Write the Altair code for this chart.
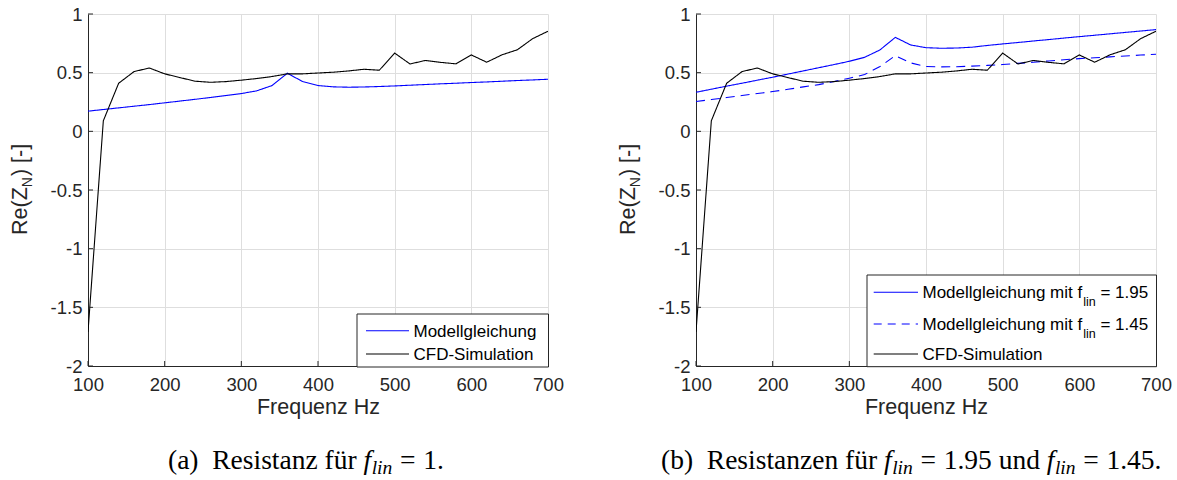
import altair as alt
import pandas as pd

# ---------------- data ----------------
freq = list(range(100, 701, 20))
cfd_sim = [-1.71, 0.09, 0.41, 0.509, 0.54, 0.49, 0.458, 0.427, 0.418, 0.424,
           0.436, 0.45, 0.467, 0.49, 0.49, 0.497, 0.504, 0.515, 0.529, 0.521,
           0.667, 0.574, 0.604, 0.588, 0.575, 0.651, 0.589, 0.652, 0.695, 0.79,
           0.853]
model_flin_1 = [0.172, 0.186, 0.2, 0.214, 0.228, 0.243, 0.258, 0.273, 0.289, 0.305,
                0.322, 0.345, 0.39, 0.495, 0.424, 0.39, 0.379, 0.376, 0.378, 0.382,
                0.387, 0.393, 0.399, 0.405, 0.41, 0.416, 0.421, 0.427, 0.433, 0.438,
                0.444]
model_flin_195 = [0.333, 0.359, 0.385, 0.41, 0.436, 0.461, 0.488, 0.515, 0.542, 0.569,
                  0.597, 0.631, 0.694, 0.801, 0.736, 0.713, 0.708, 0.71, 0.717, 0.732,
                  0.745, 0.757, 0.77, 0.782, 0.795, 0.807, 0.819, 0.831, 0.843, 0.855,
                  0.867]
model_flin_145 = [0.254, 0.271, 0.288, 0.305, 0.322, 0.339, 0.358, 0.379, 0.398, 0.424,
                  0.453, 0.484, 0.552, 0.645, 0.583, 0.552, 0.549, 0.551, 0.556, 0.562,
                  0.569, 0.579, 0.589, 0.6, 0.61, 0.62, 0.627, 0.635, 0.642, 0.65,
                  0.657]
x_tick_values = [100, 200, 300, 400, 500, 600, 700]
y_tick_values = [1, 0.5, 0, -0.5, -1, -1.5, -2]

# ---------------- styling ----------------
W, H = 460, 352
FONT = "Liberation Sans"
SERIF = "Liberation Serif"
AXIS_COLOR = "#262626"
GRID_COLOR = "#dedede"
BLUE = "#0000ff"
BLACK = "#000000"
LABEL_FS = 18.5
LEG_FS = 17
SUB_FS = 12.5
TITLE_FS = 21.5
CAP_FS = 27.5
CAP_SUB_FS = 19.5

# Arial / Liberation Sans advance widths (per em)
AW = {" ": .278, "M": .833, "o": .556, "d": .556, "e": .556, "l": .222, "g": .556,
      "i": .222, "c": .5, "h": .556, "u": .556, "n": .556, "m": .833, "t": .278,
      "f": .278, "=": .584, "1": .556, ".": .278, "9": .556, "5": .556, "4": .556,
      "R": .722, "(": .333, "Z": .611, ")": .333, "[": .278, "-": .333, "]": .278,
      "N": .722}
# Times / Liberation Serif advance widths (per em)
TW = {" ": .25, "(": .333, ")": .333, "a": .444, "b": .5, "R": .667, "e": .444,
      "s": .389, "i": .278, "t": .278, "n": .5, "z": .444, "f": .333, "ü": .5,
      "r": .333, "u": .5, "d": .5, "=": .564, "1": .5, ".": .25, "9": .5, "5": .5,
      "4": .5, "l": .278}


def tw(s, fs):
    return sum(AW.get(c, .556) for c in s) * fs


def sw(s, fs):
    return sum(TW.get(c, .5) for c in s) * fs


one = pd.DataFrame({"k": [0]})
xscale = alt.Scale(domain=[100, 700], nice=False, zero=False)
yscale = alt.Scale(domain=[-2, 1], nice=False, zero=False)

x_axis = alt.Axis(
    values=x_tick_values, title="Frequenz Hz", grid=True, ticks=False,
    gridColor=GRID_COLOR, domainColor=AXIS_COLOR, labelColor=AXIS_COLOR,
    labelFont=FONT, labelFontSize=LABEL_FS, labelPadding=9, labelFlush=False,
    titleFont=FONT, titleFontSize=TITLE_FS, titleFontWeight="normal",
    titleColor=AXIS_COLOR, titlePadding=3)
y_axis = alt.Axis(
    values=y_tick_values, title=None, grid=True, ticks=False,
    gridColor=GRID_COLOR, domainColor=AXIS_COLOR, labelColor=AXIS_COLOR,
    labelFont=FONT, labelFontSize=LABEL_FS, labelPadding=6, labelFlush=False,
    labelExpr="datum.value + ''")


def text(t, x, y, size, font=FONT, align="left", baseline="alphabetic",
         angle=None, style="normal", color=BLACK):
    kw = dict(text=t, align=align, baseline=baseline, font=font, fontSize=size,
              color=color, fontStyle=style)
    if angle is not None:
        kw["angle"] = angle
    return alt.Chart(one).mark_text(**kw).encode(x=alt.value(x), y=alt.value(y))


def rule(x1, x2, y, color, dash=None):
    kw = dict(color=color, strokeWidth=1.1)
    if dash:
        kw["strokeDash"] = dash
    return alt.Chart(one).mark_rule(**kw).encode(
        x=alt.value(x1), x2=alt.value(x2), y=alt.value(y))


def panel(series, colors, dashes, box, rows, cap_x, caption):
    recs = []
    for name, vals in series:
        for f, v in zip(freq, vals):
            recs.append({"f": f, "v": v, "s": name})
    df = pd.DataFrame(recs)
    names = [s[0] for s in series]

    base_lines = alt.Chart(df).mark_line(strokeWidth=1.1, clip=True).encode(
        x=alt.X("f:Q", scale=xscale, axis=x_axis),
        y=alt.Y("v:Q", scale=yscale, axis=y_axis),
        color=alt.Color("s:N", scale=alt.Scale(domain=names, range=colors), legend=None),
        strokeDash=alt.StrokeDash("s:N", scale=alt.Scale(domain=names, range=dashes),
                                  legend=None),
    )

    xt = alt.Chart(pd.DataFrame({"f": x_tick_values})).mark_rule(
        color=AXIS_COLOR, strokeWidth=1).encode(
        x=alt.X("f:Q", scale=xscale, axis=x_axis), y=alt.value(H), y2=alt.value(H - 5))
    yt = alt.Chart(pd.DataFrame({"v": y_tick_values})).mark_rule(
        color=AXIS_COLOR, strokeWidth=1).encode(
        y=alt.Y("v:Q", scale=yscale, axis=y_axis), x=alt.value(0), x2=alt.value(5))

    layers = [base_lines, xt, yt]

    # y-axis title Re(Z_N) [-], rotated, with subscript
    bx = -61
    y0 = 221
    layers.append(text("Re(Z", bx, y0, TITLE_FS, angle=270, color=AXIS_COLOR))
    y1 = y0 - tw("Re(Z", TITLE_FS)
    layers.append(text("N", bx + 5, y1, 14, angle=270, color=AXIS_COLOR))
    y2 = y1 - tw("N", 14) - 1
    layers.append(text(")", bx, y2, TITLE_FS, angle=270, color=AXIS_COLOR))
    y3 = y2 - tw(") ", TITLE_FS)
    layers.append(text("[-]", bx, y3, TITLE_FS, angle=270, color=AXIS_COLOR))

    # legend box
    bx1, bx2, by1, by2 = box
    layers.append(alt.Chart(one).mark_rect(fill="white", stroke=AXIS_COLOR,
                                           strokeWidth=1).encode(
        x=alt.value(bx1), x2=alt.value(bx2), y=alt.value(by1), y2=alt.value(by2)))
    for (sx1, sx2, ry, col, dash, pieces) in rows:
        layers.append(rule(sx1, sx2, ry, col, dash))
        tx = sx2 + 4.5
        for (t, kind) in pieces:
            if kind == "sub":
                layers.append(text(t, tx + 1, ry + 14, SUB_FS))
                tx += tw(t, SUB_FS) + 1
            elif kind == "gap":
                tx += tw(" ", LEG_FS)
            else:
                layers.append(text(t, tx, ry + 6.1, LEG_FS))
                tx += tw(t, LEG_FS)

    # caption (chained pieces)
    cx = cap_x
    for (t, kind) in caption:
        if kind == "sub":
            layers.append(text(t, cx, 460, CAP_SUB_FS, font=SERIF, style="italic"))
            cx += sw(t, CAP_SUB_FS)
        elif kind == "it":
            layers.append(text(t, cx, 455, CAP_FS, font=SERIF, style="italic"))
            cx += sw(t, CAP_FS) - 1
        elif kind == "gap":
            cx += t * CAP_FS
        else:
            layers.append(text(t, cx, 455, CAP_FS, font=SERIF))
            cx += sw(t, CAP_FS)

    return alt.layer(*layers).properties(width=W, height=H)


left = panel(
    [("Modellgleichung", model_flin_1), ("CFD-Simulation", cfd_sim)],
    [BLUE, BLACK], [[1, 0], [1, 0]],
    (269, 460.5, 300, 353),
    [(278, 321, 316.7, BLUE, None, [("Modellgleichung", "n")]),
     (278, 321, 340, BLACK, None, [("CFD-Simulation", "n")])],
    80,
    [("(a)", "n"), (0.5, "gap"), ("Resistanz", "n"), (0.25, "gap"), ("für", "n"),
     (0.25, "gap"), ("f", "it"), ("lin", "sub"), (0.28, "gap"), ("=", "n"),
     (0.28, "gap"), ("1.", "n")],
)

right = panel(
    [("Modellgleichung mit f_lin = 1.95", model_flin_195),
     ("Modellgleichung mit f_lin = 1.45", model_flin_145),
     ("CFD-Simulation", cfd_sim)],
    [BLUE, BLUE, BLACK], [[1, 0], [9, 6], [1, 0]],
    (171, 460.5, 261, 352.7),
    [(177.7, 222, 278.3, BLUE, None,
      [("Modellgleichung mit f", "n"), ("lin", "sub"), ("", "gap"), ("= 1.95", "n")]),
     (177.7, 222, 310, BLUE, [8, 6],
      [("Modellgleichung mit f", "n"), ("lin", "sub"), ("", "gap"), ("= 1.45", "n")]),
     (177.7, 222, 340, BLACK, None, [("CFD-Simulation", "n")])],
    -35,
    [("(b)", "n"), (0.5, "gap"), ("Resistanzen", "n"), (0.25, "gap"), ("für", "n"),
     (0.25, "gap"), ("f", "it"), ("lin", "sub"), (0.28, "gap"), ("=", "n"),
     (0.28, "gap"), ("1.95", "n"), (0.25, "gap"), ("und", "n"), (0.25, "gap"),
     ("f", "it"), ("lin", "sub"), (0.28, "gap"), ("=", "n"), (0.28, "gap"),
     ("1.45.", "n")],
)

chart = alt.hconcat(left, right, spacing=53).resolve_scale(
    color="independent", strokeDash="independent"
).properties(
    padding={"left": 9, "top": 5, "right": 0, "bottom": 0},
    background="white",
).configure_view(stroke=None)

chart.save("out.html", embed_options={"renderer": "svg", "actions": False})
